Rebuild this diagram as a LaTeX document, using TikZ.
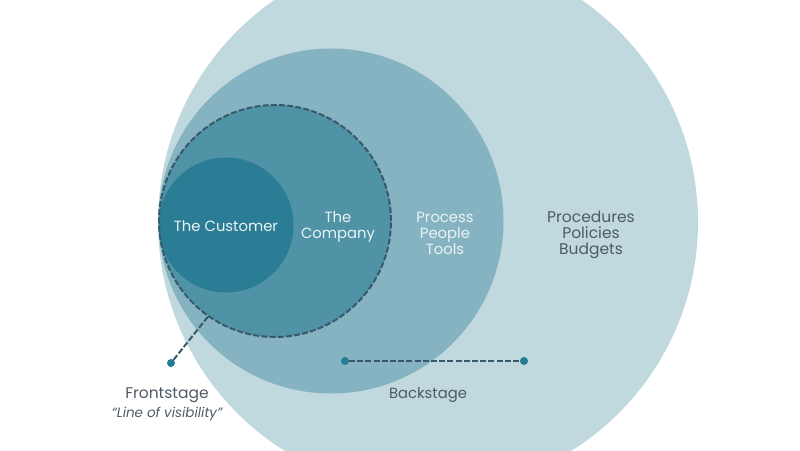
\documentclass[tikz,border=0pt]{standalone}
\usepackage{fontspec}
\setmainfont{Poppins}
\definecolor{cA}{HTML}{C0D9DF}
\definecolor{cB}{HTML}{85B3C1}
\definecolor{cC}{HTML}{5092A6}
\definecolor{cD}{HTML}{2B7D95}
\definecolor{dotc}{HTML}{257C93}
\definecolor{dashc}{HTML}{38596A}
\definecolor{txtd}{HTML}{4F5A65}
\definecolor{txtl}{HTML}{EAF3F5}
\tikzset{
  disc/.style={circle,inner sep=0pt,outer sep=0pt,minimum size=#1},
  dotn/.style={circle,inner sep=0pt,outer sep=0pt,minimum size=8pt,fill=dotc},
  dashln/.style={draw=dashc,line width=2pt,dash pattern=on 6pt off 2.2pt},
  lab/.style={align=center,font=\fontsize{15.5}{16}\selectfont,inner sep=0pt},
  labs/.style={align=center,font=\fontsize{14.8}{16}\selectfont,inner sep=0pt},
}
\begin{document}
\begin{tikzpicture}[x=1pt,y=-1pt]
\useasboundingbox (0,0) rectangle (800,450);
\begin{scope}
\clip (0,0) rectangle (800,450);
\node[disc=540pt,fill=cA] (outer) at (428,222) {};
\node[disc=345pt,fill=cB] (mid) at (331,221) {};
\node[disc=232pt,fill=cC] (comp) at (275,221) {};
\node[disc=135pt,fill=cD] (cust) at (226,225) {};
\node[disc=232pt,dashln] (line) at (275,221) {};
\end{scope}
\node[labs,text=txtl] (t1) at (226,226) {The Customer};
\node[labs,text=txtl] (t2) at (338,227) {The\\Company};
\node[labs,text=txtl] (t3) at (445,233) {Process\\People\\Tools};
\node[lab,text=txtd] (t4) at (591,234.5) {Procedures\\Policies\\Budgets};
\node[dotn] (d1) at (171,363) {};
\node[dotn] (d2) at (345,361) {};
\node[dotn] (d3) at (524,361) {};
\draw[dashln] (d1) -- (line.-125);
\draw[dashln] (d2) -- (d3);
\node[lab,text=txtd] (t5) at (167,395) {Frontstage};
\node[lab,text=txtd,font=\fontsize{13.5}{15}\selectfont\itshape] (t6) at (167,414) {“Line of visibility”};
\node[labs,text=txtd] (t7) at (428,395.5) {Backstage};
\end{tikzpicture}
\end{document}
